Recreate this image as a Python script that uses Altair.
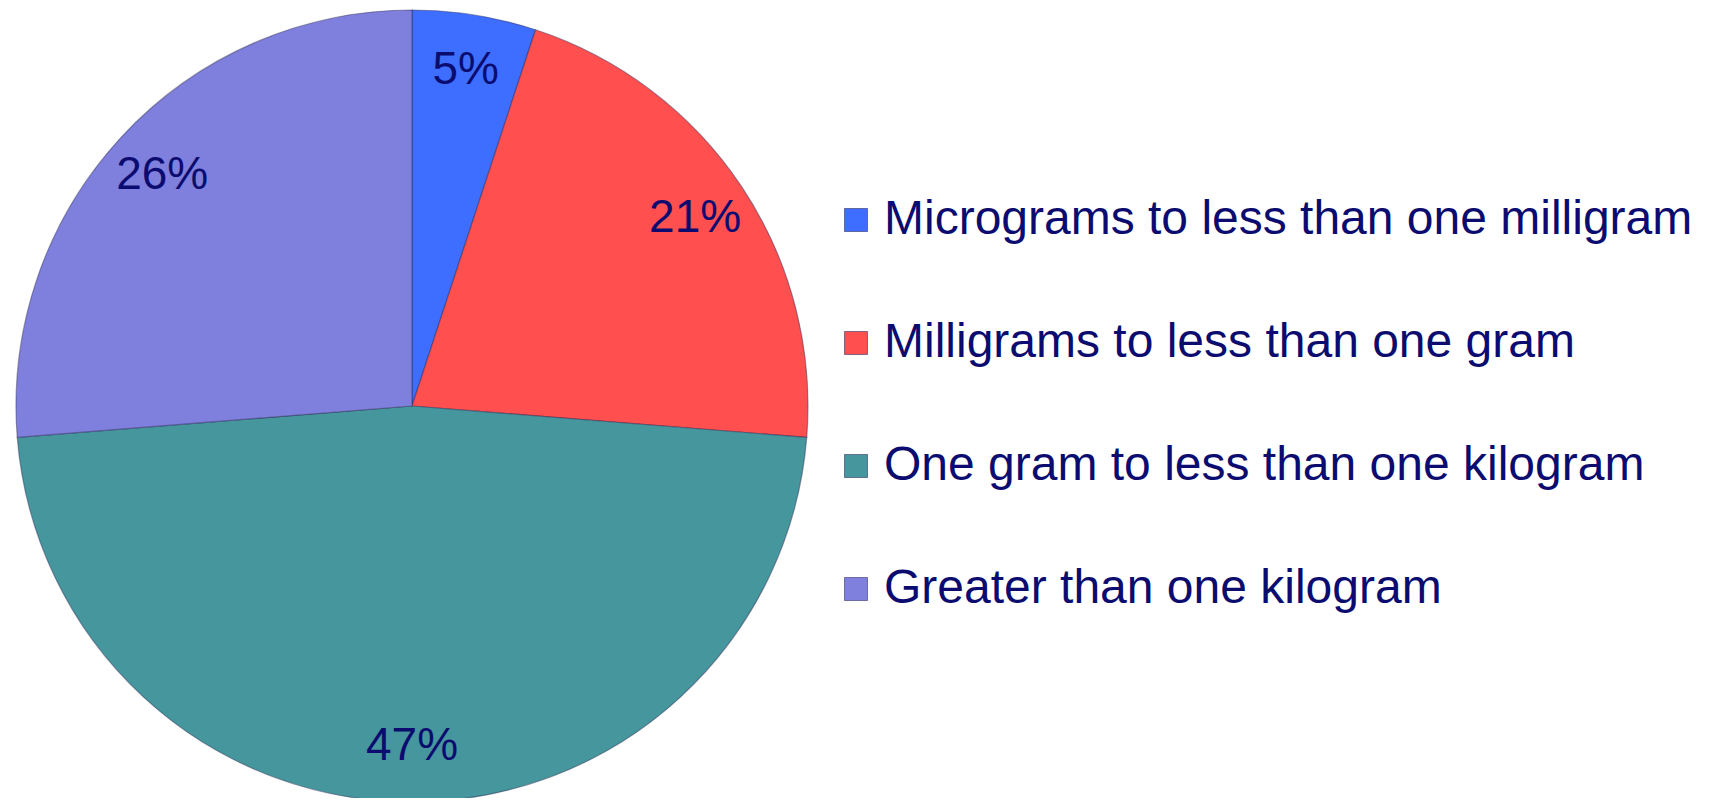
import altair as alt
import pandas as pd

categories = [
    "Micrograms to less than one milligram",
    "Milligrams to less than one gram",
    "One gram to less than one kilogram",
    "Greater than one kilogram",
]
values = [5, 21, 47, 26]
labels = ["5%", "21%", "47%", "26%"]
colors = ["#3d6eff", "#ff4f4f", "#45979d", "#7f7fdd"]
order = [0, 1, 2, 3]

df = pd.DataFrame({"category": categories, "value": values, "label": labels, "order": order})

TEXT = "#0c0c70"
CX, CY, R = 404, 398, 396

base = alt.Chart(df).encode(
    theta=alt.Theta("value:Q", stack=True),
    order=alt.Order("order:Q"),
)

arc = base.mark_arc(radius=R, x=CX, y=CY, stroke="#2a2a55", strokeOpacity=0.45, strokeWidth=1.2).encode(
    color=alt.Color(
        "category:N",
        scale=alt.Scale(domain=categories, range=colors),
        legend=alt.Legend(
            orient="none", legendX=824, legendY=188, title=None,
            symbolType="square", symbolSize=529, symbolStrokeColor="#333366",
            symbolStrokeWidth=0.6, labelFontSize=48, labelFont="Liberation Sans",
            labelColor=TEXT, labelLimit=1200, rowPadding=75, labelOffset=4, padding=0,
        ),
    )
)

text = base.mark_text(radius=340, x=CX, y=CY, fontSize=46, font="Liberation Sans", color=TEXT).encode(
    text="label:N"
)

chart = alt.layer(arc, text).properties(
    width=1694, height=790, padding=0, autosize=alt.AutoSizeParams(type="none")
).configure_view(stroke=None)

chart.save("out.html", embed_options={"renderer": "svg", "actions": False})
